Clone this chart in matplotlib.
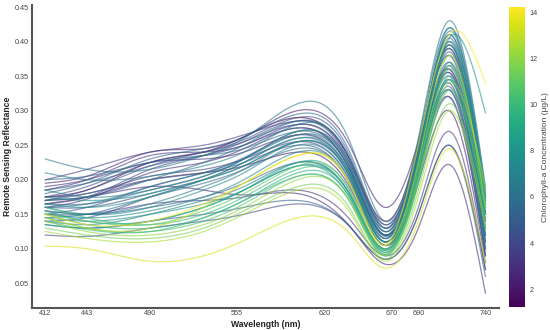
import numpy as np
import matplotlib
matplotlib.use("Agg")
import matplotlib.pyplot as plt
from matplotlib import cm, colors

plt.rcParams["font.family"] = ["Liberation Sans", "DejaVu Sans"]

# Band wavelengths (nm) at which reflectance was read
wavelengths = [412, 443, 490, 530, 560, 600, 640, 665, 690, 713, 740]

# Chlorophyll-a concentration (ug/L) per spectrum
chl = [1.24, 2.5, 2.8, 3.0, 3.2, 3.5, 3.6, 3.8,
       4.0, 4.2, 4.4, 4.5, 4.7, 4.8, 5.0, 5.2, 5.3, 5.5, 5.6, 5.8, 6.0,
       6.4, 6.6, 6.8, 7.0, 7.2, 7.4, 7.6, 7.8, 8.0, 8.3,
       9.0, 9.5, 10.0, 10.5, 11.0, 11.5, 12.0,
       12.5, 13.0, 13.5, 14.23,
       2.2, 3.0, 4.0, 4.6, 5.5, 6.2, 7.0, 10.0]

# Remote sensing reflectance per spectrum at the wavelengths above
rrs = [
    [0.175, 0.185, 0.225, 0.240, 0.262, 0.290, 0.225, 0.140, 0.250, 0.390, 0.150],
    [0.195, 0.205, 0.240, 0.245, 0.262, 0.300, 0.245, 0.160, 0.255, 0.360, 0.140],
    [0.170, 0.175, 0.190, 0.185, 0.178, 0.180, 0.130, 0.078, 0.130, 0.222, 0.036],
    [0.160, 0.172, 0.210, 0.225, 0.245, 0.275, 0.210, 0.120, 0.220, 0.340, 0.100],
    [0.185, 0.200, 0.235, 0.240, 0.250, 0.280, 0.220, 0.135, 0.235, 0.355, 0.120],
    [0.150, 0.150, 0.165, 0.170, 0.175, 0.185, 0.140, 0.090, 0.160, 0.270, 0.070],
    [0.200, 0.215, 0.240, 0.250, 0.265, 0.285, 0.225, 0.130, 0.245, 0.380, 0.140],
    [0.175, 0.180, 0.205, 0.215, 0.230, 0.255, 0.195, 0.110, 0.210, 0.330, 0.090],
    [0.165, 0.175, 0.215, 0.235, 0.255, 0.285, 0.220, 0.125, 0.240, 0.395, 0.160],
    [0.175, 0.190, 0.225, 0.240, 0.255, 0.280, 0.215, 0.120, 0.230, 0.370, 0.130],
    [0.160, 0.160, 0.180, 0.200, 0.220, 0.255, 0.200, 0.115, 0.225, 0.360, 0.120],
    [0.140, 0.145, 0.175, 0.200, 0.225, 0.260, 0.200, 0.110, 0.225, 0.365, 0.130],
    [0.185, 0.195, 0.220, 0.235, 0.250, 0.275, 0.210, 0.118, 0.225, 0.355, 0.110],
    [0.170, 0.180, 0.200, 0.210, 0.225, 0.250, 0.190, 0.105, 0.210, 0.335, 0.100],
    [0.150, 0.160, 0.190, 0.210, 0.232, 0.265, 0.205, 0.115, 0.235, 0.385, 0.150],
    [0.135, 0.130, 0.140, 0.150, 0.160, 0.170, 0.130, 0.085, 0.150, 0.250, 0.060],
    [0.165, 0.165, 0.185, 0.205, 0.230, 0.270, 0.215, 0.125, 0.245, 0.405, 0.170],
    [0.180, 0.195, 0.230, 0.245, 0.262, 0.295, 0.235, 0.135, 0.250, 0.400, 0.160],
    [0.155, 0.150, 0.160, 0.175, 0.195, 0.225, 0.175, 0.100, 0.200, 0.320, 0.090],
    [0.145, 0.150, 0.175, 0.195, 0.215, 0.245, 0.190, 0.105, 0.215, 0.345, 0.110],
    [0.170, 0.175, 0.200, 0.225, 0.250, 0.285, 0.225, 0.130, 0.255, 0.420, 0.180],
    [0.230, 0.215, 0.215, 0.235, 0.260, 0.310, 0.250, 0.140, 0.260, 0.430, 0.190],
    [0.155, 0.150, 0.165, 0.190, 0.215, 0.255, 0.200, 0.110, 0.230, 0.390, 0.150],
    [0.210, 0.200, 0.205, 0.220, 0.240, 0.280, 0.225, 0.125, 0.245, 0.410, 0.170],
    [0.140, 0.135, 0.150, 0.170, 0.190, 0.225, 0.175, 0.098, 0.205, 0.330, 0.100],
    [0.160, 0.150, 0.160, 0.185, 0.210, 0.250, 0.195, 0.110, 0.235, 0.415, 0.175],
    [0.150, 0.145, 0.155, 0.175, 0.200, 0.240, 0.190, 0.105, 0.225, 0.400, 0.165],
    [0.145, 0.140, 0.150, 0.165, 0.185, 0.220, 0.170, 0.095, 0.200, 0.345, 0.120],
    [0.165, 0.160, 0.175, 0.200, 0.225, 0.260, 0.205, 0.115, 0.230, 0.405, 0.297],
    [0.175, 0.170, 0.180, 0.200, 0.220, 0.255, 0.200, 0.110, 0.230, 0.395, 0.160],
    [0.135, 0.130, 0.140, 0.160, 0.185, 0.220, 0.175, 0.098, 0.210, 0.370, 0.140],
    [0.155, 0.140, 0.140, 0.160, 0.185, 0.225, 0.180, 0.100, 0.220, 0.380, 0.150],
    [0.150, 0.135, 0.130, 0.145, 0.170, 0.210, 0.170, 0.092, 0.200, 0.350, 0.130],
    [0.160, 0.145, 0.135, 0.150, 0.175, 0.215, 0.175, 0.095, 0.210, 0.365, 0.170],
    [0.145, 0.130, 0.125, 0.140, 0.165, 0.205, 0.165, 0.090, 0.195, 0.330, 0.160],
    [0.150, 0.140, 0.135, 0.155, 0.180, 0.220, 0.180, 0.098, 0.215, 0.360, 0.180],
    [0.130, 0.120, 0.115, 0.130, 0.155, 0.190, 0.155, 0.085, 0.185, 0.310, 0.140],
    [0.140, 0.125, 0.120, 0.135, 0.160, 0.200, 0.165, 0.090, 0.200, 0.340, 0.190],
    [0.125, 0.115, 0.110, 0.125, 0.150, 0.185, 0.150, 0.082, 0.175, 0.300, 0.130],
    [0.145, 0.130, 0.130, 0.160, 0.195, 0.235, 0.190, 0.105, 0.225, 0.380, 0.160],
    [0.104, 0.100, 0.082, 0.090, 0.112, 0.145, 0.120, 0.072, 0.140, 0.245, 0.080],
    [0.150, 0.135, 0.140, 0.165, 0.195, 0.235, 0.190, 0.105, 0.250, 0.410, 0.340],
    [0.165, 0.175, 0.200, 0.210, 0.220, 0.240, 0.185, 0.105, 0.195, 0.300, 0.080],
    [0.190, 0.200, 0.225, 0.230, 0.240, 0.265, 0.205, 0.120, 0.215, 0.320, 0.090],
    [0.120, 0.118, 0.130, 0.140, 0.150, 0.165, 0.130, 0.085, 0.150, 0.250, 0.070],
    [0.170, 0.185, 0.220, 0.240, 0.258, 0.290, 0.230, 0.130, 0.245, 0.410, 0.175],
    [0.200, 0.205, 0.225, 0.235, 0.245, 0.270, 0.210, 0.120, 0.225, 0.350, 0.110],
    [0.160, 0.165, 0.190, 0.210, 0.230, 0.265, 0.210, 0.120, 0.240, 0.395, 0.160],
    [0.185, 0.175, 0.185, 0.205, 0.230, 0.270, 0.215, 0.120, 0.240, 0.420, 0.185],
    [0.140, 0.128, 0.125, 0.145, 0.170, 0.205, 0.165, 0.092, 0.205, 0.345, 0.150],
]

xticks = [412, 443, 490, 555, 620, 670, 690, 740]
yticks = [0.05, 0.10, 0.15, 0.20, 0.25, 0.30, 0.35, 0.40, 0.45]
cbar_ticks = [2, 4, 6, 8, 10, 12, 14]


def natural_spline(x, y, xs):
    x = np.asarray(x, float); y = np.asarray(y, float)
    n = len(x)
    h = np.diff(x)
    A = np.zeros((n, n)); b = np.zeros(n)
    A[0, 0] = 1; A[-1, -1] = 1
    for i in range(1, n - 1):
        A[i, i - 1] = h[i - 1]
        A[i, i] = 2 * (h[i - 1] + h[i])
        A[i, i + 1] = h[i]
        b[i] = 3 * ((y[i + 1] - y[i]) / h[i] - (y[i] - y[i - 1]) / h[i - 1])
    c = np.linalg.solve(A, b)
    bb = (y[1:] - y[:-1]) / h - h * (2 * c[:-1] + c[1:]) / 3
    d = (c[1:] - c[:-1]) / (3 * h)
    idx = np.clip(np.searchsorted(x, xs) - 1, 0, n - 2)
    dx = xs - x[idx]
    return y[idx] + bb[idx] * dx + c[idx] * dx ** 2 + d[idx] * dx ** 3


fig = plt.figure(figsize=(5.5, 3.3), dpi=100)
ax = fig.add_axes([0.058, 0.068, 0.849, 0.917])
cax = fig.add_axes([0.925, 0.07, 0.030, 0.909])

norm = colors.Normalize(vmin=min(chl), vmax=max(chl))
cmap = plt.get_cmap("viridis")
xs = np.linspace(wavelengths[0], wavelengths[-1], 400)

order = np.argsort(chl)
for i in order:
    ys = natural_spline(wavelengths, rrs[i], xs)
    ax.plot(xs, ys, color=cmap(norm(chl[i])), alpha=0.6, lw=0.9)

ax.set_xlim(402, 750)
ax.set_ylim(0.015, 0.453)
ax.set_xticks(xticks)
ax.set_yticks(yticks)
ax.set_yticklabels([f"{v:.2f}" for v in yticks])
for s in ["top", "right"]:
    ax.spines[s].set_visible(False)
for s in ["left", "bottom"]:
    ax.spines[s].set_color("#555555")
    ax.spines[s].set_linewidth(1.5)
ax.tick_params(length=0, labelsize=5.2, labelcolor="#444444", pad=2)
ax.set_xlabel("Wavelength (nm)", fontsize=6.2, fontweight="bold", color="#222222", labelpad=2)
ax.set_ylabel("Remote Sensing Reflectance", fontsize=6.2, fontweight="bold", color="#222222", labelpad=2)

sm = cm.ScalarMappable(norm=norm, cmap=cmap)
cbar = fig.colorbar(sm, cax=cax)
cbar.outline.set_visible(False)
cbar.set_ticks(cbar_ticks)
cbar.ax.tick_params(length=0, labelsize=5.2, labelcolor="#444444", pad=3)
cbar.set_label("Chlorophyll-a Concentration (\u03bcg/L)", fontsize=6, color="#444444", labelpad=3)

fig.savefig("out.png", dpi=100)
